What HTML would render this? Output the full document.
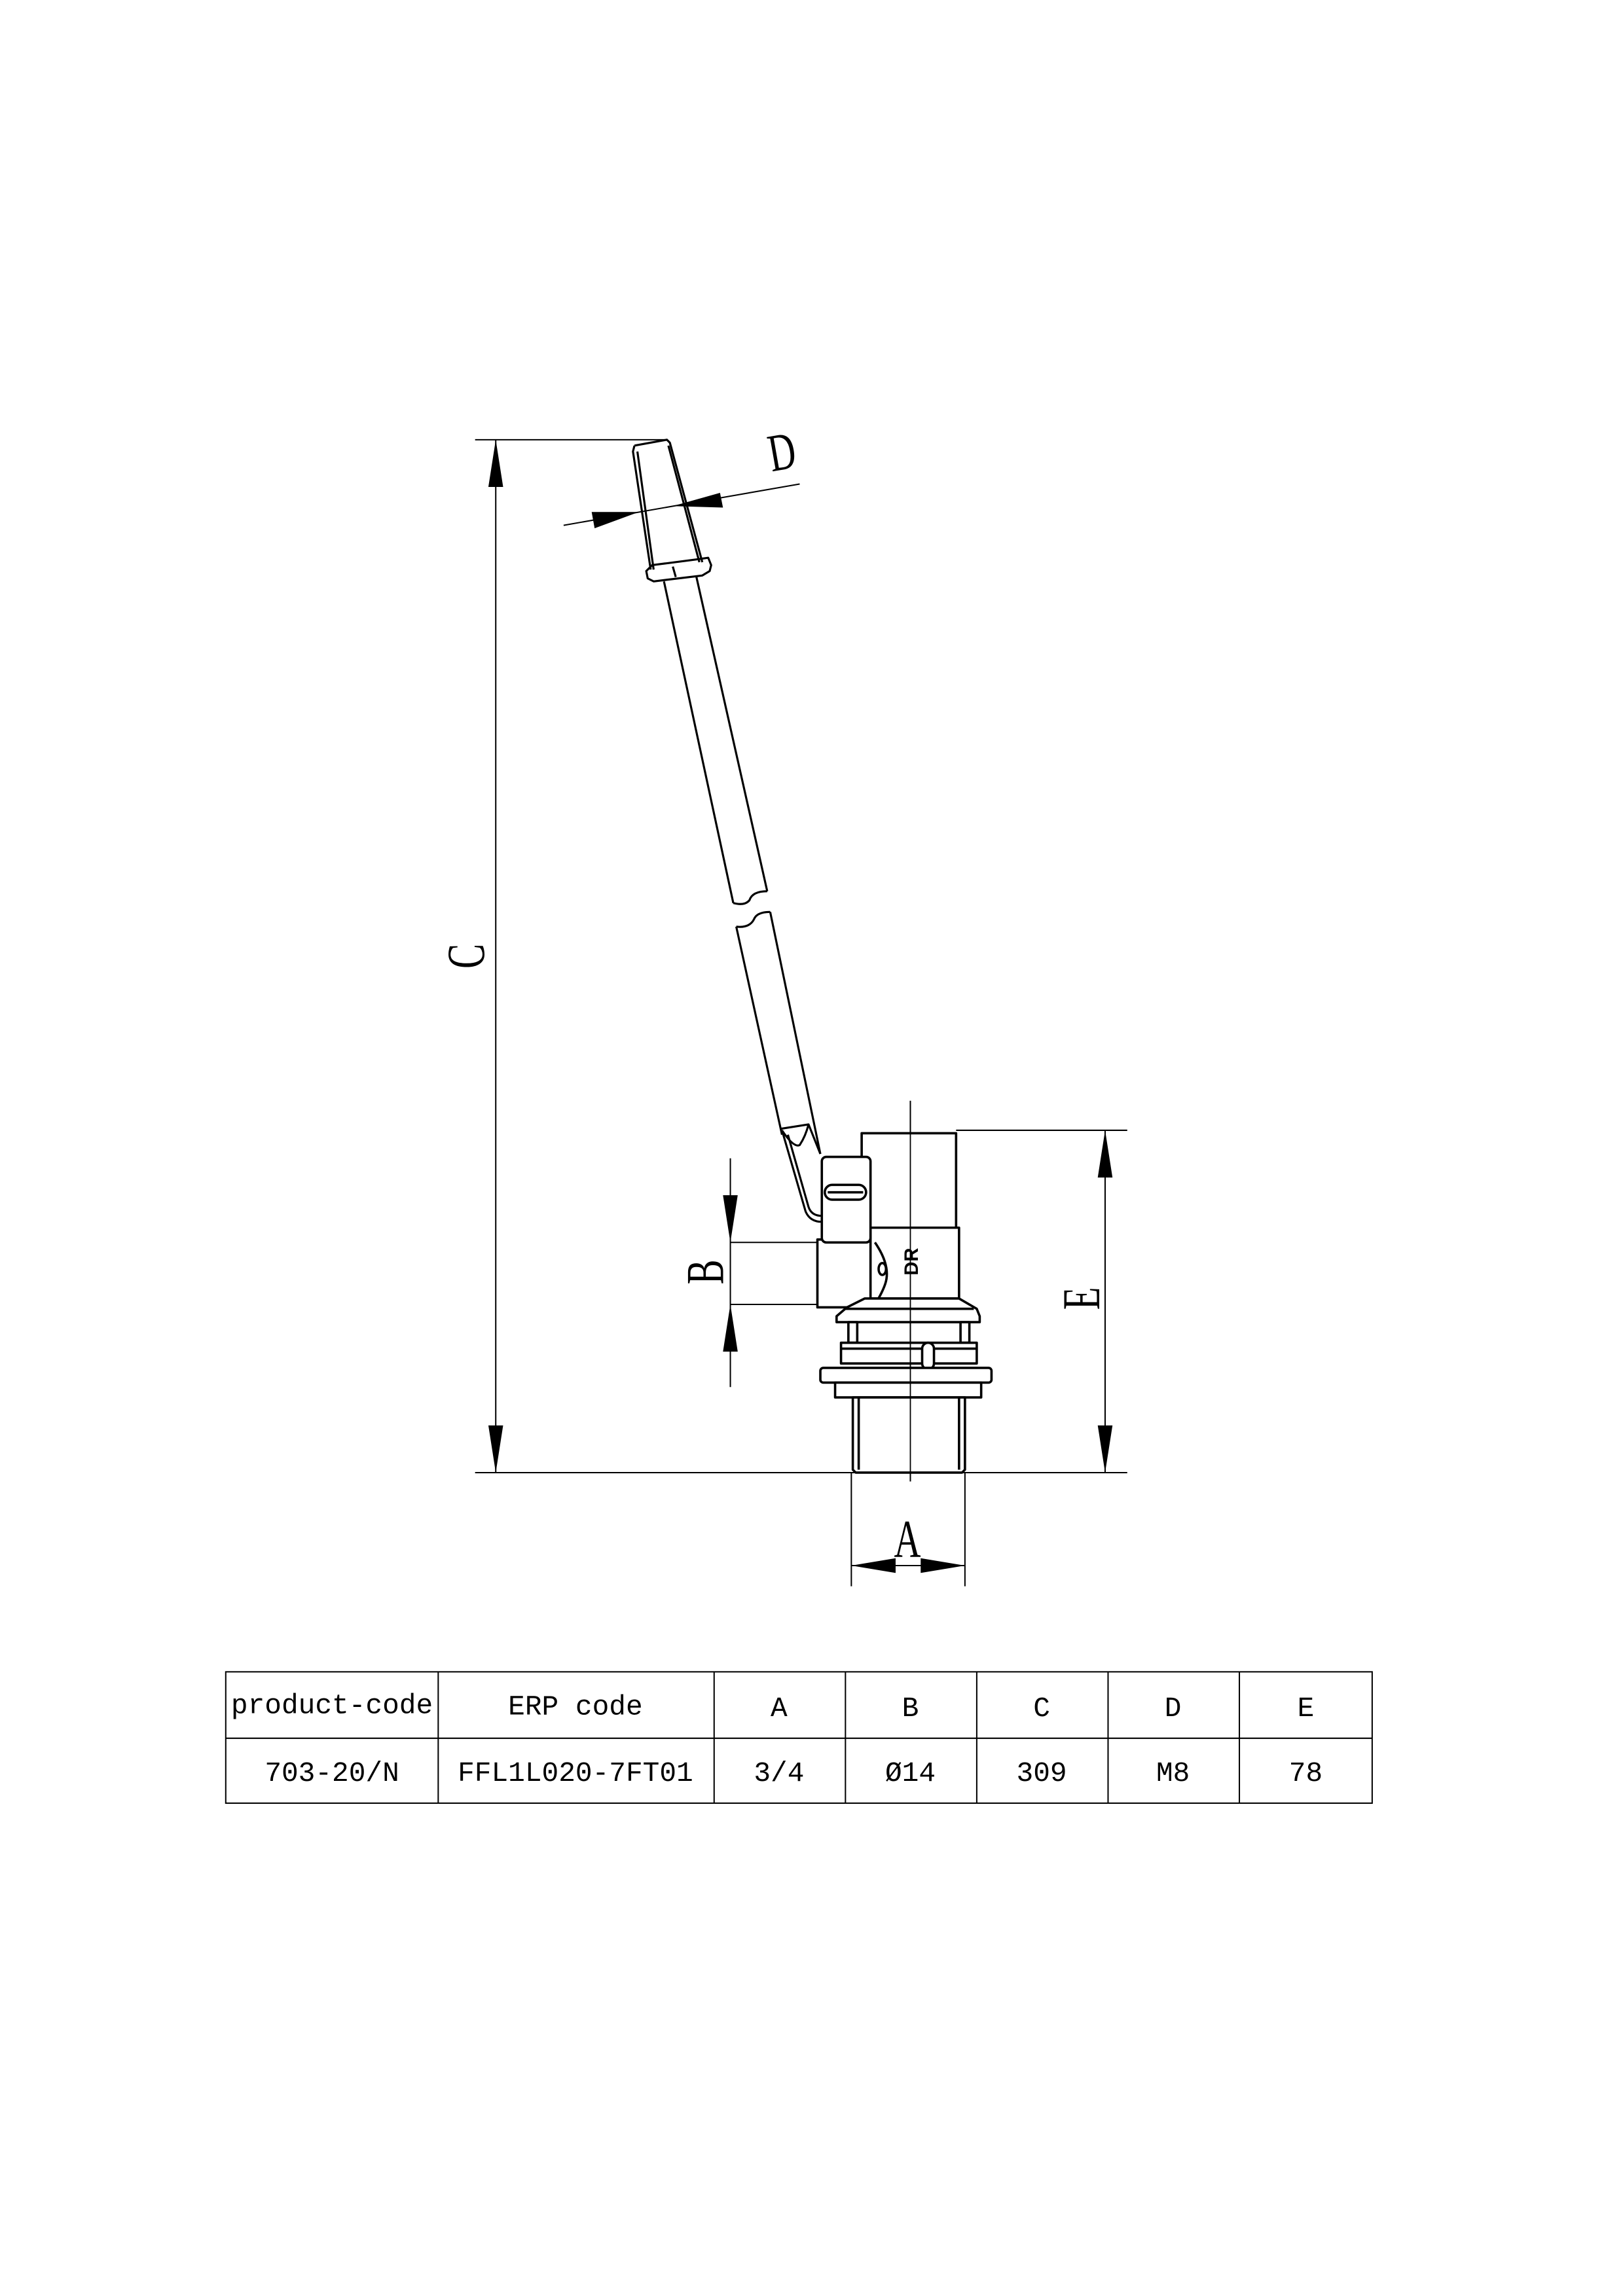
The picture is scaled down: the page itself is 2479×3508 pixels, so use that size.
<!DOCTYPE html>
<html><head><meta charset="utf-8"><style>
html,body{margin:0;padding:0;background:#fff}
svg{display:block}
</style></head><body>
<svg width="2479" height="3508" viewBox="0 0 1100 1556" preserveAspectRatio="none" xmlns="http://www.w3.org/2000/svg">
<g fill="none" stroke="#000" stroke-width="0.9">
<!-- extension lines -->
<line x1="322" y1="298" x2="452" y2="298"/>
<line x1="322" y1="998" x2="764" y2="998"/>
<line x1="648" y1="766" x2="764" y2="766"/>
<line x1="495" y1="842" x2="556" y2="842"/>
<line x1="495" y1="884" x2="556" y2="884"/>
<line x1="577" y1="998" x2="577" y2="1075"/>
<line x1="654" y1="998" x2="654" y2="1075"/>
<!-- C -->
<line x1="336" y1="298" x2="336" y2="998"/>
<!-- E -->
<line x1="749" y1="766" x2="749" y2="998"/>
<!-- B -->
<line x1="495" y1="785" x2="495" y2="940"/>
<!-- A -->
<line x1="577" y1="1061" x2="654" y2="1061"/>
<!-- D -->
<line x1="382" y1="356" x2="542" y2="328"/>
<!-- center line -->
<line x1="617" y1="746" x2="617" y2="1004"/>
</g>
<g fill="#000">
<polygon points="336,298 331,330 341,330"/>
<polygon points="336,998 331,966 341,966"/>
<polygon points="749,766 744,798 754,798"/>
<polygon points="749,998 744,966 754,966"/>
<polygon points="495,842 490,810 500,810"/>
<polygon points="495,884 490,916 500,916"/>
<polygon points="577,1061 607,1056 607,1066"/>
<polygon points="654,1061 624,1056 624,1066"/>
<polygon points="433,347 401,347 403,358"/>
<polygon points="456,343 488,334 490,344"/>
</g>
<g font-family="'Liberation Serif',serif" font-size="36" fill="#000">
<text transform="translate(328,648) rotate(-90) scale(0.7,1)" text-anchor="middle">C</text>
<text transform="translate(745,880) rotate(-90) scale(0.7,1)" text-anchor="middle">E</text>
<text transform="translate(490,862) rotate(-90) scale(0.7,1)" text-anchor="middle">B</text>
<text transform="translate(615,1055) scale(0.7,1)" text-anchor="middle">A</text>
<text transform="translate(532,318) rotate(-10) scale(0.7,1)" text-anchor="middle">D</text>
</g>
<!-- rod -->
<g fill="none" stroke="#000" stroke-width="1.4" stroke-linejoin="round">
<path d="M430,302 L452,298 L454,300 L476,381 M430,302 L429,306 L441,386"/>
<line x1="432" y1="306" x2="443" y2="386"/>
<line x1="453" y1="302" x2="474" y2="381"/>
<path d="M438,387 L442,383 L473,379 L480,378 L482,383 L481,387 L476,390 L443,394 L439,392 Z"/>
<line x1="456" y1="384" x2="458" y2="391"/>
<line x1="450" y1="394" x2="497" y2="612"/>
<line x1="472" y1="391" x2="520" y2="604"/>
<path d="M497,612 Q505,614 508,610 Q510,604 520,604"/>
<path d="M499,628 Q508,629 511,623 Q513,618 522,618"/>
<line x1="499" y1="628" x2="530" y2="769"/>
<line x1="522" y1="618" x2="556" y2="782"/>
<path d="M529,765 L548,762 L556,782"/>
<path d="M530,766 Q538,778 542,776 Q546,770 548,762"/>
<path d="M530,766 L546,821 Q549,828 557,828"/>
<path d="M534,769 L548,818 Q550,824 557,824"/>
</g>
<!-- body -->
<g fill="#fff" stroke="#000" stroke-width="1.6" stroke-linejoin="round">
<path d="M584,797 L584,768 L648,768 L648,832 L584,832 Z"/>
<rect x="554" y="840" width="40" height="46"/>
<path d="M590,832 L650,832 L650,880 L590,880 Z"/>
<path d="M593,842 Q604,858 600,870 Q598,876 593,884" fill="none"/>
<ellipse cx="598" cy="860" rx="2.5" ry="4"/>
<rect x="557" y="784" width="33" height="58" rx="3"/>
<rect x="559" y="803" width="28" height="10" rx="5"/>
<line x1="561" y1="808" x2="585" y2="808"/>
<path d="M586,880 L650,880 L662,887 L664,892 L664,896 L567,896 L567,892 L574,886 Z"/>
<line x1="573" y1="887" x2="660" y2="887"/>
<rect x="575" y="896" width="6" height="14"/>
<rect x="651" y="896" width="6" height="14"/>
<path d="M570,910 L662,910 L662,924 L570,924 Z"/>
<line x1="570" y1="914" x2="662" y2="914"/>
<rect x="625" y="910" width="8" height="18" rx="4"/>
<rect x="556" y="927" width="116" height="10" rx="2"/>
<rect x="566" y="937" width="99" height="10"/>
<path d="M578,947 L578,996 L580,998 L652,998 L654,996 L654,947 Z"/>
<line x1="582" y1="947" x2="582" y2="996"/>
<line x1="650" y1="947" x2="650" y2="996"/>
</g>
<line x1="617" y1="746" x2="617" y2="1004" stroke="#000" stroke-width="0.8"/>
<text transform="translate(622,855) rotate(-90)" text-anchor="middle" font-family="'Liberation Sans',sans-serif" font-weight="bold" font-size="13" fill="#000">DR</text>
<!-- table -->
<g fill="none" stroke="#000" stroke-width="0.9">
<rect x="153" y="1133" width="777" height="89"/>
<line x1="153" y1="1178" x2="930" y2="1178"/>
<line x1="297" y1="1133" x2="297" y2="1222"/>
<line x1="484" y1="1133" x2="484" y2="1222"/>
<line x1="573" y1="1133" x2="573" y2="1222"/>
<line x1="662" y1="1133" x2="662" y2="1222"/>
<line x1="751" y1="1133" x2="751" y2="1222"/>
<line x1="840" y1="1133" x2="840" y2="1222"/>
</g>
<g font-family="'Liberation Mono',monospace" font-size="19" fill="#000" text-anchor="middle">
<text x="225" y="1161">product-code</text>
<text x="390" y="1162">ERP code</text>
<text x="528" y="1163">A</text>
<text x="617" y="1163">B</text>
<text x="706" y="1163">C</text>
<text x="795" y="1163">D</text>
<text x="885" y="1163">E</text>
<text x="225" y="1207">703-20/N</text>
<text x="390" y="1207">FFL1L020-7FT01</text>
<text x="528" y="1207">3/4</text>
<text x="617" y="1207">Ø14</text>
<text x="706" y="1207">309</text>
<text x="795" y="1207">M8</text>
<text x="885" y="1207">78</text>
</g>
</svg>
</body></html>
